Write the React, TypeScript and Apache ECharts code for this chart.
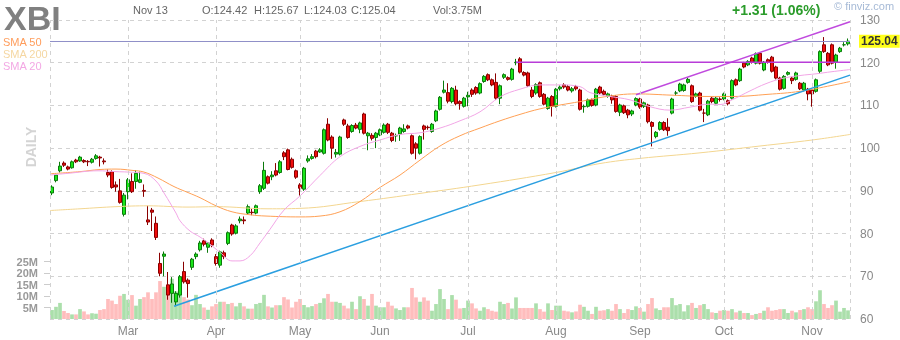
import React, { useEffect, useRef } from 'react';
import * as echarts from 'echarts';

const FONT = '"Liberation Sans", Arial, sans-serif';

// trading days per month shown (Feb 3 2020 .. Nov 13 2020)
const tradingMonths: [string, number][] = [
  ['Feb', 19], ['Mar', 22], ['Apr', 21], ['May', 20], ['Jun', 22],
  ['Jul', 22], ['Aug', 21], ['Sep', 21], ['Oct', 22], ['Nov', 10],
];

// [open, close, low, high]
const ohlc: number[][] = [
  [89.5, 90.9, 89.0, 91.3], [92.4, 93.7, 92.0, 94.0], [94.7, 95.8, 94.3, 96.8], [96.5, 96.0, 95.6, 96.9],
  [95.6, 95.1, 94.8, 95.9], [95.4, 96.8, 95.2, 97.1], [97.2, 96.8, 96.5, 97.5], [97.0, 97.9, 96.8, 98.2],
  [97.1, 96.8, 96.5, 97.4], [96.9, 96.8, 95.8, 97.2], [96.7, 97.4, 96.4, 97.7], [97.6, 98.2, 97.3, 98.6],
  [97.9, 97.7, 95.7, 98.2], [97.0, 96.8, 96.2, 97.6], [94.3, 93.7, 93.2, 95.0], [94.5, 90.8, 90.5, 94.8],
  [91.4, 90.9, 89.8, 92.2], [90.0, 87.3, 87.0, 92.8], [84.5, 89.0, 84.0, 89.5], [89.8, 92.6, 88.0, 93.0],
  [92.2, 89.8, 89.5, 94.1], [92.2, 94.1, 90.5, 94.8], [92.0, 92.6, 91.8, 94.5], [90.1, 89.9, 88.6, 91.5],
  [83.2, 82.7, 82.0, 86.5], [85.5, 85.0, 80.6, 86.0], [82.4, 79.1, 78.5, 84.0], [73.0, 70.7, 70.0, 75.5],
  [74.7, 75.2, 70.0, 75.8], [68.0, 65.6, 64.5, 71.0], [66.0, 68.2, 63.8, 69.8], [64.0, 66.0, 63.0, 66.5],
  [65.6, 69.9, 65.0, 70.3], [71.1, 68.7, 68.3, 73.4], [69.1, 68.3, 65.0, 69.5], [72.1, 74.0, 71.5, 74.3],
  [74.6, 75.2, 74.0, 75.6], [76.2, 77.8, 75.8, 78.3], [78.3, 77.5, 77.0, 78.8], [76.8, 77.8, 75.5, 78.0],
  [78.5, 77.3, 76.8, 78.9], [74.6, 73.0, 72.5, 75.2], [72.6, 75.7, 72.0, 76.0], [75.5, 74.6, 74.0, 76.0],
  [77.7, 80.2, 77.3, 80.5], [82.0, 79.9, 79.5, 82.3], [80.1, 81.8, 79.8, 82.2], [83.0, 83.4, 82.4, 84.0],
  [83.2, 83.0, 82.2, 84.0], [84.8, 86.3, 84.4, 86.8], [85.0, 84.9, 84.3, 85.8], [84.8, 86.5, 84.5, 86.8],
  [89.8, 91.2, 89.3, 91.6], [90.6, 94.8, 90.2, 96.8], [93.3, 91.8, 91.5, 93.6], [93.3, 93.7, 92.5, 94.6],
  [94.7, 93.7, 93.4, 96.5], [94.3, 96.8, 94.0, 97.2], [98.9, 98.0, 97.2, 99.3], [99.6, 95.0, 94.8, 99.9],
  [97.4, 95.5, 95.2, 97.8], [94.7, 93.2, 92.8, 95.0], [91.4, 90.6, 88.9, 91.8], [90.4, 95.3, 90.0, 95.6],
  [97.0, 97.5, 96.6, 98.3], [97.6, 98.0, 97.3, 98.6], [99.3, 98.0, 97.6, 99.6], [99.1, 99.6, 98.9, 100.0],
  [98.8, 104.3, 98.5, 104.6], [105.6, 101.9, 101.6, 107.0], [102.6, 100.0, 97.5, 103.0], [98.6, 99.0, 97.8, 99.8],
  [98.6, 102.6, 98.3, 102.9], [106.6, 105.6, 105.2, 106.9], [105.2, 102.5, 102.2, 105.7], [103.9, 105.3, 103.6, 105.6],
  [105.4, 104.7, 104.4, 105.9], [104.4, 105.9, 103.5, 106.2], [108.0, 103.5, 103.2, 108.3], [102.9, 103.5, 99.5, 103.8],
  [103.0, 102.3, 101.8, 103.5], [102.5, 103.5, 100.0, 103.8], [103.1, 104.3, 102.8, 104.6], [103.7, 105.4, 103.4, 105.8],
  [105.6, 103.7, 103.3, 105.9], [103.5, 101.8, 101.4, 103.8], [102.9, 102.9, 101.5, 103.4], [103.3, 104.7, 101.7, 105.0],
  [103.9, 104.5, 103.6, 105.6], [105.2, 104.7, 104.4, 105.5], [102.9, 98.8, 98.5, 103.2], [101.0, 100.0, 97.4, 101.4],
  [98.8, 102.7, 98.5, 103.0], [105.2, 104.4, 102.0, 105.5], [104.9, 104.8, 104.3, 105.3], [103.9, 105.6, 103.6, 105.9],
  [106.4, 108.7, 106.1, 109.0], [109.1, 111.9, 108.8, 112.2], [113.1, 113.6, 112.8, 115.8], [113.0, 111.0, 110.5, 115.2],
  [110.9, 114.0, 110.5, 114.3], [113.6, 110.4, 110.0, 114.6], [110.9, 110.4, 109.0, 111.2], [109.8, 111.7, 109.5, 112.0],
  [112.0, 112.4, 109.8, 113.2], [113.6, 112.6, 112.0, 114.0], [114.2, 112.9, 112.5, 114.5], [112.9, 115.1, 112.6, 115.4],
  [115.6, 116.8, 115.3, 117.1], [117.2, 116.0, 115.7, 117.5], [116.0, 114.8, 114.5, 116.3], [115.4, 111.7, 111.3, 117.5],
  [111.7, 114.6, 110.3, 114.9], [116.6, 117.2, 116.2, 117.5], [116.5, 116.1, 115.8, 116.8], [116.1, 118.5, 115.8, 118.8],
  [120.0, 120.1, 119.4, 120.9], [120.9, 117.8, 117.5, 121.3], [117.7, 117.1, 116.8, 118.0], [117.6, 114.6, 114.3, 117.9],
  [113.6, 112.1, 111.7, 114.3], [112.9, 114.9, 112.5, 115.2], [115.3, 112.1, 111.8, 115.6], [112.6, 110.3, 110.0, 112.9],
  [109.3, 111.7, 109.0, 112.0], [112.1, 109.8, 107.4, 112.4], [109.8, 113.8, 109.5, 114.1], [113.9, 114.3, 113.5, 114.7],
  [114.8, 114.3, 113.9, 115.2], [114.4, 113.6, 113.3, 114.8], [113.4, 113.9, 113.0, 114.3], [114.4, 113.9, 113.5, 114.8],
  [113.6, 109.1, 108.8, 113.9], [109.7, 109.8, 108.3, 110.2], [109.8, 111.3, 109.5, 111.6], [111.3, 110.0, 109.7, 111.6],
  [110.1, 113.8, 109.8, 114.1], [114.3, 112.9, 112.6, 114.6], [113.3, 112.6, 112.2, 113.7], [112.1, 112.7, 111.8, 113.0],
  [112.2, 111.3, 110.4, 112.5], [112.1, 108.6, 108.3, 112.4], [108.4, 110.1, 107.5, 110.4], [109.9, 108.3, 108.0, 110.2],
  [108.9, 107.8, 107.0, 109.2], [108.0, 108.7, 107.5, 109.0], [110.1, 111.6, 109.8, 111.9], [111.5, 109.6, 109.2, 111.8],
  [109.8, 110.6, 109.4, 110.9], [110.1, 106.2, 105.8, 110.4], [106.0, 105.1, 100.4, 106.3], [102.7, 103.7, 102.3, 104.0],
  [104.4, 106.0, 104.1, 106.3], [106.0, 104.3, 104.0, 106.3], [104.9, 104.1, 102.9, 107.0], [108.2, 111.5, 107.9, 111.8],
  [112.9, 112.9, 112.3, 113.4], [113.4, 115.0, 113.1, 115.3], [113.5, 114.8, 113.2, 115.1], [115.4, 116.1, 115.1, 116.5],
  [114.6, 110.9, 110.6, 114.9], [112.1, 112.7, 111.8, 113.0], [112.9, 108.9, 108.6, 113.2], [108.2, 108.2, 106.1, 109.2],
  [107.8, 111.0, 107.5, 111.3], [111.7, 110.9, 110.5, 112.0], [110.5, 111.7, 110.2, 112.0], [111.5, 111.4, 110.9, 111.9],
  [111.5, 112.7, 111.2, 113.0], [111.1, 110.4, 110.0, 111.4], [111.7, 115.8, 111.4, 116.1], [116.0, 114.8, 114.5, 116.3],
  [115.8, 118.5, 115.5, 118.8], [119.9, 119.0, 118.7, 120.2], [119.5, 120.3, 119.2, 120.6], [121.1, 120.1, 119.8, 121.4],
  [119.9, 122.1, 119.6, 122.4], [122.2, 119.9, 119.6, 122.5], [118.3, 120.1, 118.0, 120.4], [120.7, 120.1, 119.8, 121.0],
  [121.3, 118.0, 117.7, 121.6], [119.0, 116.4, 116.1, 119.3], [116.4, 113.8, 113.5, 116.7], [114.0, 116.8, 113.7, 117.1],
  [117.3, 117.7, 117.0, 118.0], [116.4, 115.8, 115.0, 116.7], [116.1, 117.6, 115.8, 117.9], [115.2, 113.9, 113.6, 115.5],
  [113.6, 115.2, 113.3, 115.5], [113.8, 112.7, 111.2, 114.1], [113.6, 112.7, 109.7, 113.9], [113.3, 116.0, 113.0, 116.3],
  [118.0, 122.6, 117.5, 122.9], [124.2, 122.6, 122.3, 126.0], [122.2, 119.5, 119.2, 122.5], [124.2, 119.9, 119.6, 124.5],
  [120.1, 121.8, 118.6, 122.1], [122.6, 123.4, 122.3, 123.7], [124.2, 124.2, 123.8, 124.8], [124.42, 125.04, 124.03, 125.67],
];

// volume, millions
const volumeM: number[] = [
  3.9, 5.3, 7.0, 3.5, 2.6, 2.0, 2.0, 4.3, 3.3, 2.0, 2.5, 2.3, 3.9, 4.3,
  8.7, 8.0, 6.5, 10.1, 10.9, 8.4, 10.4, 5.8, 8.7, 9.5, 11.6, 8.7, 11.6,
  16.5, 14.0, 13.0, 17.5, 12.0, 12.5, 9.5, 8.5,
  6.0, 10.5, 6.5, 5.0, 4.0, 5.5, 6.5, 7.5, 7.5, 6.5, 7.0, 5.5, 7.0, 5.5, 4.5, 4.5, 6.5, 7.0, 10.5, 5.5, 5.0, 6.0, 6.0, 9.5, 8.5, 5.0, 7.5,
  8.7, 6.1, 5.1, 5.6, 6.5, 7.0, 9.0, 10.9, 7.5, 7.5, 7.0, 5.8, 4.6, 7.5, 4.3, 9.9, 8.7, 5.8, 10.9, 5.8, 5.1, 5.1, 7.5, 5.8, 4.6, 3.9, 5.1,
  5.1, 13.5, 9.4, 7.5, 9.4, 8.0, 3.6, 6.5, 13.0, 8.7, 4.3, 10.4, 8.4, 4.6, 4.8, 8.0, 6.8, 4.6, 3.6, 5.1, 4.3, 3.6, 3.2, 7.5,
  6.5, 7.0, 4.6, 9.4, 4.8, 4.8, 4.8, 4.8, 6.8, 4.3, 3.2, 6.8, 3.9, 5.8, 5.8, 3.6, 3.3, 2.9, 3.3, 6.2, 5.3, 3.6, 2.2, 5.3,
  3.6, 3.8, 4.3, 3.6, 6.5, 4.3, 2.6, 4.3, 3.9, 5.5, 4.8, 3.2, 6.5, 9.1, 4.6, 3.9, 5.1, 5.1, 9.1, 6.0, 6.5, 3.3, 6.0, 7.0,
  4.8, 6.0, 6.5, 4.3, 2.9, 2.6, 3.6, 3.9, 3.6, 4.3, 2.9, 3.6, 2.6, 2.6, 1.7, 2.2, 2.6, 3.6, 5.1, 3.6, 3.9, 4.3, 4.3, 2.6,
  3.6, 2.9, 3.9, 4.3, 5.1, 4.3, 7.7, 12.5, 6.5, 4.8, 6.0, 8.0, 3.2, 4.8, 3.75,
];

// moving averages: [day index, value]
const sma20: number[][] = [
  [-0.5, 93.7], [4, 94.1], [11.5, 94.7], [16, 94.5], [19, 94.4], [23, 94.1], [26, 92.3], [28, 89.5],
  [31, 84.8], [32, 83.0], [34.5, 80.6], [37, 79.2], [39.5, 77.5], [42, 75.6], [45, 73.6], [47, 73.6],
  [49.5, 74.8], [52, 77.8], [54.5, 81.0], [58, 85.5], [62, 88.8], [67, 93.6], [72, 98.0], [77, 100.4],
  [82, 101.9], [87, 103.2], [92, 103.6], [97, 104.7], [102, 106.4], [107, 108.5], [112, 112.0],
  [117, 113.8], [122, 114.8], [127, 114.8], [132, 114.4], [134.5, 113.0], [139.5, 112.1], [144.5, 111.3],
  [149.5, 109.7], [154.5, 108.9], [159.5, 109.6], [164.5, 110.3], [167, 110.2], [170, 111.3], [174.5, 113.4],
  [178.5, 115.1], [182.5, 116.3], [187, 117.0], [191, 117.4], [195, 117.9], [199.5, 118.4],
];
const sma50: number[][] = [
  [-0.5, 94.0], [7, 94.5], [12, 95.0], [16, 95.1], [20, 94.8], [23, 94.4], [26.5, 93.0], [30.5, 91.0],
  [34, 89.6], [37, 88.4], [41, 86.5], [45, 85.1], [49.5, 84.4], [53.5, 84.1], [62, 83.9], [67, 84.1],
  [72, 85.1], [77, 87.5], [82, 90.8], [87, 93.7], [92, 97.2], [97, 100.5], [102, 102.9], [107, 104.7],
  [112, 106.4], [117, 107.9], [122, 109.2], [127, 110.1], [132, 110.9], [138, 112.0], [146, 112.7],
  [155, 112.4], [164, 112.1], [170, 112.1], [179, 112.6], [187, 113.3], [195, 114.7], [199.5, 115.6],
];
const sma200: number[][] = [
  [-0.5, 85.4], [7, 85.8], [16, 86.3], [24, 86.5], [34, 86.2], [41, 86.3], [54, 85.8], [62, 85.9],
  [77, 87.5], [92, 89.4], [107, 91.4], [126, 94.3], [137, 96.4], [147, 97.6], [162, 98.9], [177, 100.5],
  [190, 101.9], [199.5, 103.2],
];

// trend lines: [day index, price]
const supportLine: number[][] = [[30.5, 63.0], [199.5, 117.1]];
const channelTop: number[][] = [[146, 112.5], [199.5, 129.6]];
const resistance: number[][] = [[116, 120.1], [199.5, 120.1]];

const lastPrice = 125.04;

export default function App() {
  const ref = useRef<HTMLDivElement>(null);

  useEffect(() => {
    if (!ref.current) return;
    const chart = echarts.init(ref.current, undefined, { renderer: 'svg' });

    const categories: string[] = [];
    const monthStart: Record<number, string> = {};
    let idx = 0;
    for (const [m, n] of tradingMonths) {
      monthStart[idx] = m;
      for (let d = 1; d <= n; d++) categories.push(`${m} ${d}`);
      idx += n;
    }
    const N = categories.length;
    const gridIdx = [-0.5, ...Object.keys(monthStart).map(Number).filter((i) => i > 0), N - 0.5];

    const volData = volumeM.map((v, i) => ({
      value: v,
      itemStyle: { color: ohlc[i][1] >= ohlc[i][0] ? '#abdfab' : '#ffbdbd' },
    }));

    const lineBase = (data: number[][], color: string, width: number, smooth: number | boolean) => ({
      type: 'line',
      xAxisIndex: 1,
      yAxisIndex: 0,
      data,
      smooth,
      symbol: 'none',
      showSymbol: false,
      silent: true,
      lineStyle: { color, width },
    });

    const hdr = (x: number, text: string) => ({
      type: 'text', x, y: 10,
      style: { text, font: `11px ${FONT}`, fill: '#666', textVerticalAlign: 'middle' },
    });

    const option: any = {
      animation: false,
      textStyle: { fontFamily: FONT },
      grid: { left: 50, right: 50, top: 20, bottom: 21 },
      xAxis: [
        {
          type: 'category',
          data: categories,
          boundaryGap: true,
          axisLine: { show: false },
          axisTick: { show: false },
          splitLine: { show: false },
          axisLabel: {
            interval: (i: number) => i > 0 && monthStart[i] !== undefined,
            formatter: (_v: string, i: number) => monthStart[i] ?? '',
            color: '#888',
            fontSize: 12,
            margin: 6,
            fontFamily: FONT,
          },
        },
        { type: 'value', min: -0.5, max: N - 0.5, show: false },
      ],
      yAxis: [
        {
          type: 'value',
          position: 'right',
          min: 60,
          max: 130,
          interval: 10,
          axisLine: { show: false },
          axisTick: { show: false },
          axisLabel: { color: '#888', fontSize: 12, margin: 10, fontFamily: FONT },
          splitLine: { lineStyle: { color: '#d2d2d2', type: [4, 4], width: 1 } },
        },
        {
          type: 'value',
          position: 'left',
          min: 0,
          max: 130,
          axisLine: { show: false },
          splitLine: { show: false },
          axisTick: { show: true, length: 6, lineStyle: { color: '#cccccc' }, customValues: [5, 10, 15, 20, 25] },
          axisLabel: {
            customValues: [5, 10, 15, 20, 25],
            formatter: (v: number) => `${v}M`,
            color: '#999',
            fontWeight: 'bold',
            fontSize: 11,
            margin: 12,
            fontFamily: FONT,
          },
        },
      ],
      series: [
        {
          type: 'bar',
          xAxisIndex: 0,
          yAxisIndex: 1,
          data: volData,
          barCategoryGap: '8%',
          silent: true,
        },
        {
          ...lineBase(sma200, '#f3d690', 1, 0.4),
          markLine: {
            silent: true,
            symbol: ['none', 'none'],
            label: { show: false },
            lineStyle: { color: '#d2d2d2', type: [4, 4], width: 1 },
            data: gridIdx.map((i) => ({ xAxis: i })),
          },
        },
        lineBase(sma50, '#ffa055', 1, 0.4),
        lineBase(sma20, '#f2a6e6', 1, 0.4),
        lineBase(supportLine, '#2b9fe0', 1.5, false),
        lineBase(channelTop, '#c04ade', 1.5, false),
        lineBase(resistance, '#b83cd8', 1.5, false),
        {
          type: 'candlestick',
          xAxisIndex: 0,
          yAxisIndex: 0,
          data: ohlc,
          barWidth: 3,
          silent: true,
          itemStyle: {
            color: '#19e619',
            color0: '#f00c0c',
            borderColor: '#0b7a0b',
            borderColor0: '#8a0000',
            borderWidth: 1,
          },
          markLine: {
            silent: true,
            symbol: ['none', 'none'],
            lineStyle: { color: '#9090c8', type: 'solid', width: 1 },
            label: {
              show: true,
              position: 'end',
              distance: 9,
              formatter: lastPrice.toFixed(2),
              backgroundColor: '#ffff1a',
              padding: [1, 2, 0, 2],
              color: '#333',
              fontWeight: 'bold',
              fontSize: 12,
              fontFamily: FONT,
            },
            data: [{ yAxis: lastPrice }],
          },
        },
      ],
      graphic: [
        { type: 'text', x: 4, y: 18, style: { text: 'XBI', font: `bold 34px ${FONT}`, fill: '#808080', textVerticalAlign: 'middle' } },
        { type: 'text', x: 3, y: 42, style: { text: 'SMA 50', font: `11px ${FONT}`, fill: '#ff9d5c', textVerticalAlign: 'middle' } },
        { type: 'text', x: 3, y: 54, style: { text: 'SMA 200', font: `11px ${FONT}`, fill: '#f5d7a2', textVerticalAlign: 'middle' } },
        { type: 'text', x: 3, y: 66, style: { text: 'SMA 20', font: `11px ${FONT}`, fill: '#f3a8e4', textVerticalAlign: 'middle' } },
        {
          type: 'text', x: 31, y: 147, rotation: Math.PI / 2,
          style: { text: 'DAILY', font: `bold 14px ${FONT}`, fill: '#d4d4d4', textAlign: 'center', textVerticalAlign: 'middle' },
        },
        hdr(133, 'Nov 13'),
        hdr(202, 'O:124.42'),
        hdr(254, 'H:125.67'),
        hdr(304, 'L:124.03'),
        hdr(351, 'C:125.04'),
        hdr(433, 'Vol:3.75M'),
        { type: 'text', x: 732, y: 10, style: { text: '+1.31 (1.06%)', font: `bold 14px ${FONT}`, fill: '#2b9c2b', textVerticalAlign: 'middle' } },
        { type: 'text', x: 834, y: 6, style: { text: '© finviz.com', font: `11px ${FONT}`, fill: '#a6bad6', textVerticalAlign: 'middle' } },
      ],
    };

    chart.setOption(option);
    return () => chart.dispose();
  }, []);

  return <div ref={ref} style={{ position: 'fixed', left: 0, top: 0, width: 900, height: 340 }} />;
}
